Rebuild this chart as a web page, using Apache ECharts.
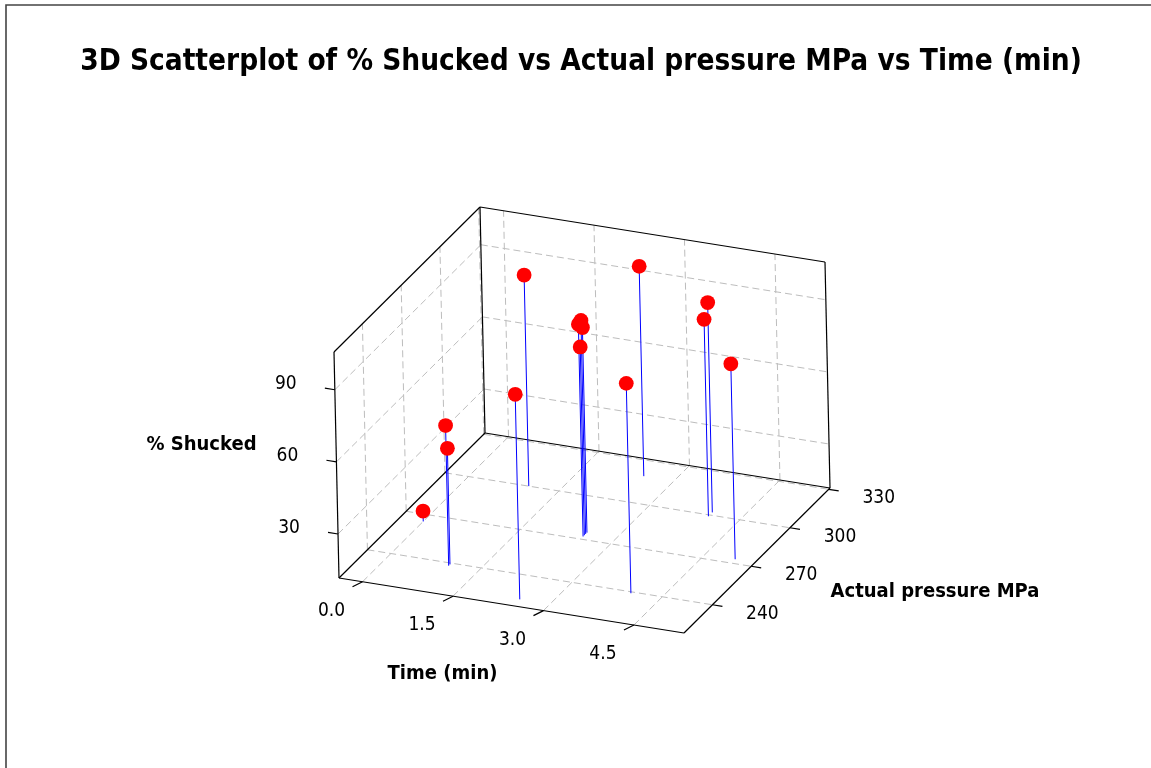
<!DOCTYPE html>
<html><head><meta charset="utf-8">
<script src="https://cdn.jsdelivr.net/npm/echarts@6/dist/echarts.min.js"></script>
<style>html,body{margin:0;padding:0;background:#fff}#c{width:1151px;height:768px}</style>
</head><body><div id="c"></div>
<script>
// ---------------- data ----------------
const chartTitle = '3D Scatterplot of % Shucked vs Actual pressure MPa vs Time (min)';
const timeName = 'Time (min)';
const pressureName = 'Actual pressure MPa';
const shuckedName = '% Shucked';

const timeValues     = [1,    2.5, 4,   4,    5,   4,   2.5, 2.5, 2.5,   2.5, 2.5, 1,   1,   0];
const pressureValues = [300,  319, 302, 299,  273, 239, 223, 272, 274,   275, 273, 238, 239, 265];
const shuckedValues  = [99.5, 99,  99,  93.6, 93,  99,  97,  100, 100.5, 97,  90,  70,  60,  16];

const timeTicks = [0, 1.5, 3.0, 4.5];
const timeTickLabels = ['0.0', '1.5', '3.0', '4.5'];
const pressureTicks = [240, 270, 300, 330];
const pressureTickLabels = ['240', '270', '300', '330'];
const shuckedTicks = [30, 60, 90];
const shuckedTickLabels = ['30', '60', '90'];

const timeRange = [-0.39, 5.33];
const pressureRange = [218, 331];
const shuckedRange = [11.7, 105.7];

// ---------------- layout (projection of the 3D box) ----------------
const ORIGIN = [339, 578];
const VEC_T = [345, 55];
const VEC_P = [146, -145];
const VEC_S = [-5, -226];
const FONT = "'DejaVu Sans Condensed', 'DejaVu Sans', sans-serif";

function frac(v, r) { return (v - r[0]) / (r[1] - r[0]); }
function project(t, p, s) {
  const a = frac(t, timeRange), b = frac(p, pressureRange), c = frac(s, shuckedRange);
  return [ORIGIN[0] + a * VEC_T[0] + b * VEC_P[0] + c * VEC_S[0],
          ORIGIN[1] + a * VEC_T[1] + b * VEC_P[1] + c * VEC_S[1]];
}

function line(a, b, style) {
  return { type: 'line', shape: { x1: a[0], y1: a[1], x2: b[0], y2: b[1] }, style: style };
}
function text(pt, dx, dy, str, font) {
  return { type: 'text', style: { text: str, x: pt[0] + dx, y: pt[1] + dy, fill: '#000', font: font,
    align: 'center', verticalAlign: 'middle' } };
}

function frameItem(params, api) {
  const P = (t, p, s) => api.coord(project(t, p, s));
  const [t0, t1] = timeRange, [p0, p1] = pressureRange, [s0, s1] = shuckedRange;
  const ch = [];
  const grid = { stroke: '#bdbdbd', lineWidth: 1, lineDash: [7, 4] };
  timeTicks.forEach(t => {
    ch.push(line(P(t, p0, s0), P(t, p1, s0), grid));
    ch.push(line(P(t, p1, s0), P(t, p1, s1), grid));
  });
  pressureTicks.forEach(p => {
    ch.push(line(P(t0, p, s0), P(t1, p, s0), grid));
    ch.push(line(P(t0, p, s0), P(t0, p, s1), grid));
  });
  shuckedTicks.forEach(s => {
    ch.push(line(P(t0, p0, s), P(t0, p1, s), grid));
    ch.push(line(P(t0, p1, s), P(t1, p1, s), grid));
  });
  const edge = { stroke: '#000', lineWidth: 1.2 };
  ch.push(line(P(t0, p0, s0), P(t1, p0, s0), edge));
  ch.push(line(P(t1, p0, s0), P(t1, p1, s0), edge));
  ch.push(line(P(t0, p0, s0), P(t0, p1, s0), edge));
  ch.push(line(P(t0, p1, s0), P(t1, p1, s0), edge));
  ch.push(line(P(t0, p0, s0), P(t0, p0, s1), edge));
  ch.push(line(P(t0, p1, s0), P(t0, p1, s1), edge));
  ch.push(line(P(t1, p1, s0), P(t1, p1, s1), edge));
  ch.push(line(P(t0, p0, s1), P(t0, p1, s1), edge));
  ch.push(line(P(t0, p1, s1), P(t1, p1, s1), edge));
  const tickFont = '19px ' + FONT;
  const titleFont = 'bold 20px ' + FONT;
  timeTicks.forEach((t, i) => {
    const a = P(t, p0, s0);
    ch.push(line(a, [a[0] - 10, a[1] + 5], edge));
    ch.push(text(a, -31, 29, timeTickLabels[i], tickFont));
  });
  pressureTicks.forEach((p, i) => {
    const a = P(t1, p, s0);
    ch.push(line(a, [a[0] + 10, a[1] + 1.6], edge));
    ch.push(text(a, 50, 9, pressureTickLabels[i], tickFont));
  });
  shuckedTicks.forEach((s, i) => {
    const a = P(t0, p0, s);
    ch.push(line(a, [a[0] - 10, a[1] - 1.6], edge));
    ch.push(text(a, -49, -6, shuckedTickLabels[i], tickFont));
  });
  ch.push(text(P((t0 + t1) / 2, p0, s0), -69, 68, timeName, titleFont));
  ch.push(text(P(t1, (p0 + p1) / 2, s0), 178, 31, pressureName, titleFont));
  ch.push(text(P(t0, p0, (s0 + s1) / 2), -135, -20, shuckedName, titleFont));
  return { type: 'group', children: ch };
}

function pointItem(params, api) {
  const t = api.value(0), p = api.value(1), s = api.value(2);
  const floor = api.coord(project(t, p, shuckedRange[0]));
  const top = api.coord(project(t, p, s));
  return { type: 'group', children: [
    line(floor, top, { stroke: '#0000ff', lineWidth: 1 }),
    { type: 'circle', shape: { cx: top[0], cy: top[1], r: 7.4 }, style: { fill: '#ff0000' } }
  ] };
}

const pointData = timeValues.map((t, i) => [t, pressureValues[i], shuckedValues[i]]);

const chart = echarts.init(document.getElementById('c'), null, { renderer: 'canvas' });
chart.setOption({
  animation: false,
  backgroundColor: '#fff',
  title: { text: chartTitle, left: 576, top: 42, textAlign: 'center',
    textStyle: { fontSize: 29.5, fontWeight: 'bold', fontFamily: FONT, color: '#000' } },
  grid: { left: 0, right: 0, top: 0, bottom: 0 },
  xAxis: { type: 'value', min: 0, max: 1151, show: false },
  yAxis: { type: 'value', min: 0, max: 768, inverse: true, show: false },
  graphic: [{ type: 'polyline', shape: { points: [[6, 768], [6, 5], [1151, 5]] },
    style: { stroke: '#444', lineWidth: 1.6, fill: null }, z: 10 }],
  series: [
    { type: 'custom', renderItem: frameItem, data: [0], silent: true, z: 1, clip: false },
    { type: 'custom', renderItem: pointItem, data: pointData, silent: true, z: 2, clip: false,
      encode: { x: 0, y: 1 } }
  ]
});
</script></body></html>
